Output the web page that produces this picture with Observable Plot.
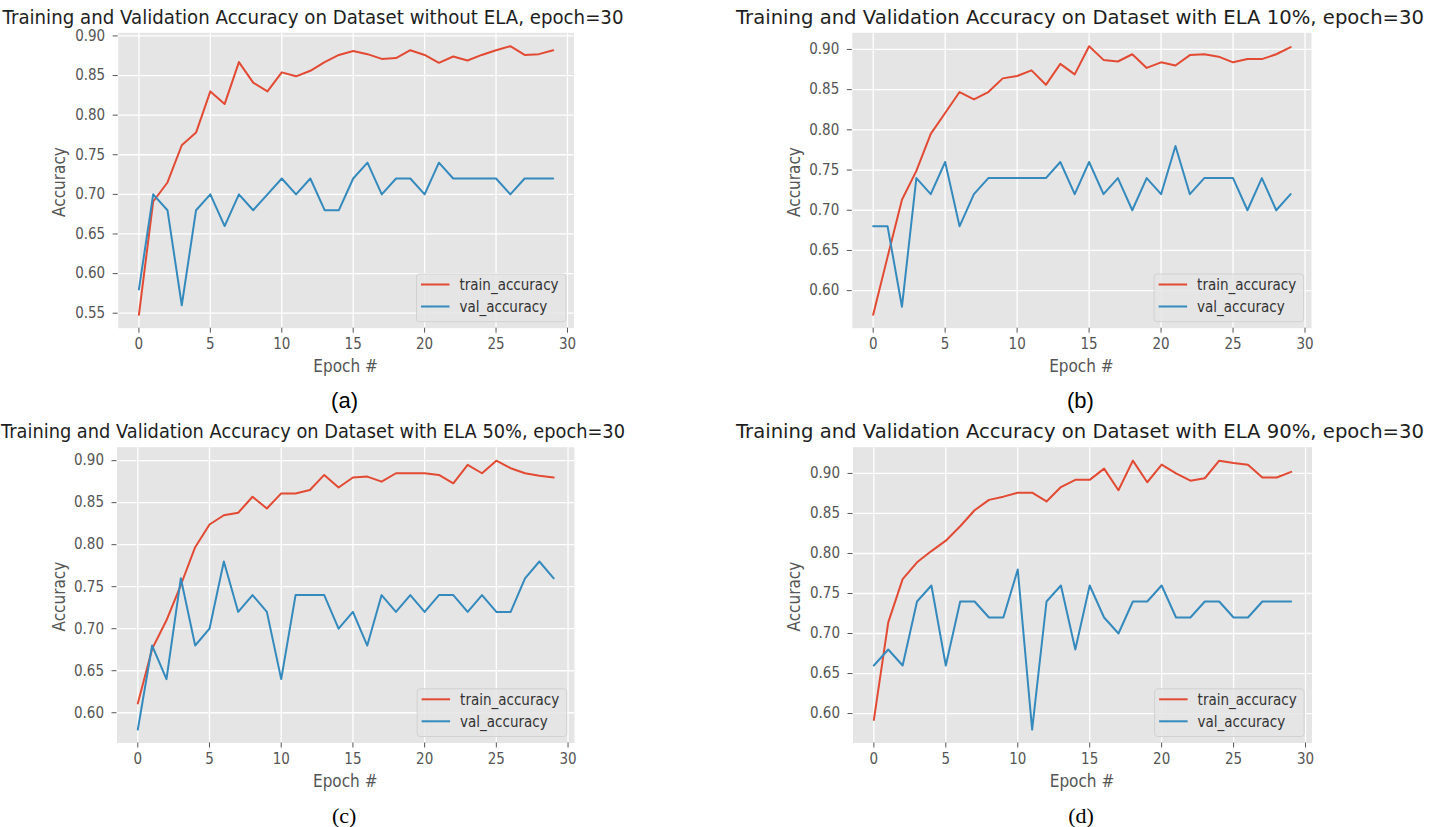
<!DOCTYPE html>
<html><head><meta charset="utf-8">
<script src="https://cdn.jsdelivr.net/npm/d3@7"></script>
<script src="https://cdn.jsdelivr.net/npm/@observablehq/plot@0.6"></script>
<style>
body{margin:0;background:#fff;}
#root{position:relative;width:1441px;height:827px;overflow:hidden;background:#fff;}
.panel{position:absolute;}
.panel svg{font-family:'DejaVu Sans Condensed','DejaVu Sans',sans-serif;font-stretch:condensed;background:transparent;overflow:visible;}
#overlay{position:absolute;left:0;top:0;pointer-events:none;}
</style></head><body><div id="root"></div>
<script>
// ---- data ----
const epochs = [0,1,2,3,4,5,6,7,8,9,10,11,12,13,14,15,16,17,18,19,20,21,22,23,24,25,26,27,28,29];
const xTicks = [0,5,10,15,20,25,30];
const seriesNames = ["train_accuracy","val_accuracy"];

const titleA = "Training and Validation Accuracy on Dataset without ELA, epoch=30";
const titleB = "Training and Validation Accuracy on Dataset with ELA 10%, epoch=30";
const titleC = "Training and Validation Accuracy on Dataset with ELA 50%, epoch=30";
const titleD = "Training and Validation Accuracy on Dataset with ELA 90%, epoch=30";

const trainA = [0.548,0.691,0.715,0.762,0.778,0.830,0.814,0.867,0.841,0.830,0.854,0.849,0.856,0.867,0.876,0.881,0.877,0.871,0.872,0.882,0.876,0.866,0.874,0.869,0.876,0.882,0.887,0.876,0.877,0.882];
const valA   = [0.58,0.70,0.68,0.56,0.68,0.70,0.66,0.70,0.68,0.70,0.72,0.70,0.72,0.68,0.68,0.72,0.74,0.70,0.72,0.72,0.70,0.74,0.72,0.72,0.72,0.72,0.70,0.72,0.72,0.72];

const trainB = [0.570,0.642,0.713,0.749,0.795,0.821,0.847,0.838,0.847,0.864,0.867,0.874,0.856,0.882,0.869,0.904,0.887,0.885,0.894,0.877,0.884,0.880,0.893,0.894,0.891,0.884,0.888,0.888,0.894,0.903];
const valB   = [0.68,0.68,0.58,0.74,0.72,0.76,0.68,0.72,0.74,0.74,0.74,0.74,0.74,0.76,0.72,0.76,0.72,0.74,0.70,0.74,0.72,0.78,0.72,0.74,0.74,0.74,0.70,0.74,0.70,0.72];

const trainC = [0.611,0.676,0.710,0.752,0.797,0.824,0.835,0.838,0.857,0.843,0.861,0.861,0.865,0.883,0.868,0.880,0.881,0.875,0.885,0.885,0.885,0.883,0.873,0.895,0.885,0.900,0.891,0.885,0.882,0.880];
const valC   = [0.58,0.68,0.64,0.76,0.68,0.70,0.78,0.72,0.74,0.72,0.64,0.74,0.74,0.74,0.70,0.72,0.68,0.74,0.72,0.74,0.72,0.74,0.74,0.72,0.74,0.72,0.72,0.76,0.78,0.76];

const trainD = [0.592,0.714,0.768,0.789,0.803,0.816,0.834,0.854,0.867,0.871,0.876,0.876,0.865,0.883,0.892,0.892,0.906,0.879,0.916,0.889,0.911,0.900,0.891,0.894,0.916,0.913,0.911,0.895,0.895,0.902];
const valD   = [0.66,0.68,0.66,0.74,0.76,0.66,0.74,0.74,0.72,0.72,0.78,0.58,0.74,0.76,0.68,0.76,0.72,0.70,0.74,0.74,0.76,0.72,0.72,0.74,0.74,0.72,0.72,0.74,0.74,0.74];

const yTicksA = [0.55,0.60,0.65,0.70,0.75,0.80,0.85,0.90];
const yTicksBCD = [0.60,0.65,0.70,0.75,0.80,0.85,0.90];

// ---- layout ----
const panels = [
  {title:titleA, tcx:313, tlen:621, cap:"(a)", capFont:"'Liberation Sans',Arial,sans-serif", train:trainA, val:valA, yTicks:yTicksA,
   left:0, top:0, w:720, h:415, pl:117.7, pr:573.4, pt:32.3, pb:327.7, ylab:65},
  {title:titleB, tcx:1080, tlen:688, cap:"(b)", capFont:"'Liberation Sans',Arial,sans-serif", train:trainB, val:valB, yTicks:yTicksBCD,
   left:720, top:0, w:721, h:415, pl:851.8, pr:1311, pt:32.3, pb:327.7, ylab:800},
  {title:titleC, tcx:313, tlen:624, cap:"(c)", capFont:"'Liberation Serif','Times New Roman',serif", train:trainC, val:valC, yTicks:yTicksBCD,
   left:0, top:415, w:720, h:412, pl:116.5, pr:574, pt:446.7, pb:742.5, ylab:65},
  {title:titleD, tcx:1080, tlen:688, cap:"(d)", capFont:"'Liberation Serif','Times New Roman',serif", train:trainD, val:valD, yTicks:yTicksBCD,
   left:720, top:415, w:721, h:412, pl:852.5, pr:1311.5, pt:446.7, pb:742.5, ylab:800}
];

const RED = "#E24A33", BLUE = "#348ABD", TICK = "#555555";
const root = document.getElementById("root");
const ns = "http://www.w3.org/2000/svg";
const overlay = document.createElementNS(ns, "svg");
overlay.setAttribute("id","overlay");
overlay.setAttribute("width",1441); overlay.setAttribute("height",827);

function txt(parent, x, y, s, attrs) {
  const t = document.createElementNS(ns, "text");
  t.setAttribute("x", x); t.setAttribute("y", y);
  for (const k in attrs) t.setAttribute(k, attrs[k]);
  t.textContent = s; parent.appendChild(t); return t;
}
function el(parent, name, attrs) {
  const e = document.createElementNS(ns, name);
  for (const k in attrs) e.setAttribute(k, attrs[k]);
  parent.appendChild(e); return e;
}
const COND = "'DejaVu Sans Condensed','DejaVu Sans',sans-serif";

for (const p of panels) {
  const rows = epochs.map((e,i) => ({epoch:e, train:p.train[i], val:p.val[i]}));
  const all = p.train.concat(p.val);
  const lo = d3.min(all), hi = d3.max(all), m = (hi - lo) * 0.05;
  const chart = Plot.plot({
    width: p.w, height: p.h,
    marginLeft: p.pl - p.left, marginRight: p.left + p.w - p.pr,
    marginTop: p.pt - p.top, marginBottom: p.top + p.h - p.pb,
    style: {background: "transparent", overflow: "visible"},
    x: {domain: [-1.45, 30.45]},
    y: {domain: [lo - m, hi + m]},
    marks: [
      Plot.frame({fill: "#E5E5E5", stroke: "none"}),
      Plot.gridX(xTicks, {stroke: "white", strokeOpacity: 1, strokeWidth: 1.3}),
      Plot.gridY(p.yTicks, {stroke: "white", strokeOpacity: 1, strokeWidth: 1.3}),
      Plot.axisX(xTicks, {tickSize: 5, tickPadding: 5, stroke: TICK, fill: TICK, fontSize: 15, label: null, tickFormat: d3.format("d")}),
      Plot.axisY(p.yTicks, {tickSize: 5, tickPadding: 8, stroke: TICK, fill: TICK, fontSize: 15, label: null, tickFormat: d3.format(".2f")}),
      Plot.line(rows, {x: "epoch", y: "train", stroke: RED, strokeWidth: 2}),
      Plot.line(rows, {x: "epoch", y: "val", stroke: BLUE, strokeWidth: 2})
    ]
  });
  const div = document.createElement("div");
  div.className = "panel";
  div.style.left = p.left + "px"; div.style.top = p.top + "px";
  div.appendChild(chart);
  root.appendChild(div);

  const cx = (p.pl + p.pr) / 2, cy = (p.pt + p.pb) / 2;
  // title
  txt(overlay, p.tcx, p.pt - 8.5, p.title, {"text-anchor":"middle", "font-family":"'DejaVu Sans',sans-serif", "font-size":19.5, fill:"#1e1e1e",
    textLength:p.tlen, lengthAdjust:"spacingAndGlyphs"});
  // axis labels
  txt(overlay, cx, p.pb + 44.5, "Epoch #", {"text-anchor":"middle", "font-family":COND, "font-stretch":"condensed", "font-size":17, fill:TICK});
  txt(overlay, 0, 0, "Accuracy", {"text-anchor":"middle", "font-family":COND, "font-stretch":"condensed", "font-size":17, fill:TICK,
    transform:`translate(${p.ylab},${cy + 2}) rotate(-90)`});
  // caption
  txt(overlay, cx - 1, p.pb + 80.5, p.cap, {"text-anchor":"middle", "font-family":p.capFont, "font-size":22, fill:"#000"});
  // legend
  const bx = p.pr - 7.4 - 149.5, by = p.pb - 6 - 47.7;
  el(overlay, "rect", {x:bx, y:by, width:149.5, height:47.7, rx:3, fill:"#E5E5E5", "fill-opacity":0.85, stroke:"#cccccc", "stroke-opacity":0.8});
  [RED, BLUE].forEach((c, i) => {
    const ly = by + 10.5 + i * 22;
    el(overlay, "line", {x1:bx + 4.5, x2:bx + 33, y1:ly, y2:ly, stroke:c, "stroke-width":2});
    txt(overlay, bx + 43, ly + 5.3, seriesNames[i], {"font-family":COND, "font-stretch":"condensed", "font-size":15, fill:"#333"});
  });
}
root.appendChild(overlay);
</script>
</body></html>
